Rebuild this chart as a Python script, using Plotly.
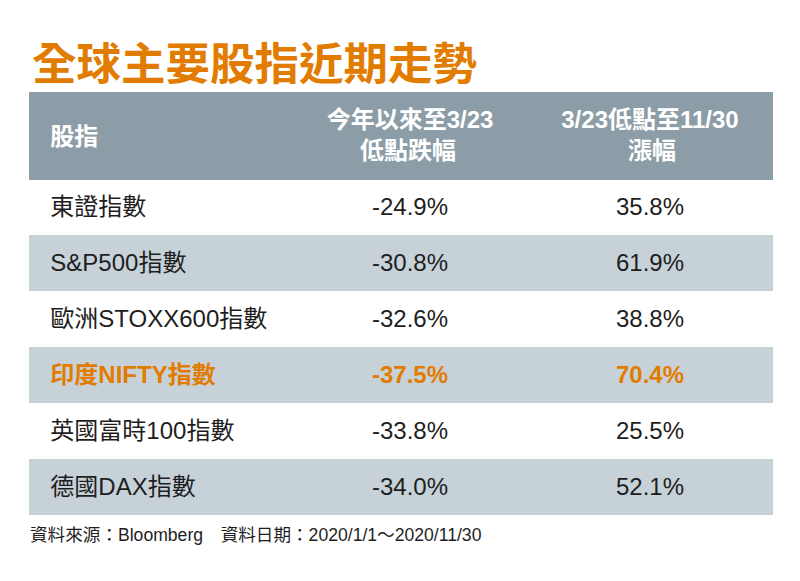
import plotly.graph_objects as go

title = "全球主要股指近期走勢"
header_labels = ["股指", ["今年以來至3/23", "低點跌幅"], ["3/23低點至11/30", "漲幅"]]
indices = ["東證指數", "S&P500指數", "歐洲STOXX600指數", "印度NIFTY指數", "英國富時100指數", "德國DAX指數"]
drop_to_low = ["-24.9%", "-30.8%", "-32.6%", "-37.5%", "-33.8%", "-34.0%"]
rise_from_low = ["35.8%", "61.9%", "38.8%", "70.4%", "25.5%", "52.1%"]
highlight = "印度NIFTY指數"
footnote = "資料來源：Bloomberg　資料日期：2020/1/1～2020/11/30"

# page has an 8px body margin: figure is shrunk so it fills the 800x581 window
OFF = 8
W, H = 800 - OFF, 581 - OFF
def px(x):
    return (x - OFF) / W
def py(y):
    return 1 - (y - OFF) / H

ORANGE = "#E27C00"
HEAD = "#8C9DA7"
STRIPE = "#C6D1D8"
TEXT = "#1e1e1e"
FONT = "Liberation Sans, Noto Sans CJK TC, sans-serif"
FS = 24
NB = "\u00a0"

n = len(indices)
hi = [name == highlight for name in indices]
row_fill = ["white" if i % 2 == 0 else STRIPE for i in range(n)]
row_color = [ORANGE if h else TEXT for h in hi]

def fmt(vals, pad=""):
    return [f"<span>{pad}" + (f"<b>{v}</b>" if h else v) + "</span>" for v, h in zip(vals, hi)]

def text_width(s, size=FS):
    w = 0.0
    for ch in s:
        if ord(ch) > 0x2E80:
            w += 1.0
        elif ch in "/.":
            w += 0.278
        else:
            w += 0.556
    return w * size

def centered_two_lines(lines):
    a, b = lines
    pad = (text_width(a) - text_width(b)) / 2
    k = max(0, round(pad / (0.278 * FS)))
    return f"<b>{a}</b><br><b>{NB * k}{b}</b>"

top, bottom = 92, 515
left, right = 29, 772
head_h, row_h = 87, 56
shift = 6  # text sits lower than the top-aligned default

# grid (fills)
fig = go.Figure(go.Table(
    domain=dict(x=[px(left), px(right)], y=[py(bottom), py(top)]),
    columnwidth=[263, 236, 244],
    header=dict(
        values=[""] * 3,
        fill_color=HEAD,
        line=dict(color=HEAD, width=1),
        height=head_h,
    ),
    cells=dict(
        values=[[""] * n] * 3,
        fill_color=[row_fill] * 3,
        line=dict(color=[row_fill] * 3, width=1),
        height=row_h,
    ),
    hoverinfo="skip",
))

# text
fig.add_trace(go.Table(
    domain=dict(x=[px(left), px(right)], y=[py(bottom + shift), py(top + shift)]),
    columnwidth=[263, 236, 244],
    header=dict(
        values=[f"<span style='font-size:8.6px'>{NB}</span><br><b>{NB}{NB}{header_labels[0]}</b>",
                centered_two_lines(header_labels[1]),
                centered_two_lines(header_labels[2])],
        fill_color="rgba(0,0,0,0)",
        line=dict(color="rgba(0,0,0,0)", width=0),
        align=["left", "center", "center"],
        font=dict(family=FONT, size=FS, color="white"),
        height=head_h,
    ),
    cells=dict(
        values=[fmt(indices, NB + NB), fmt(drop_to_low), fmt(rise_from_low)],
        fill_color="rgba(0,0,0,0)",
        line=dict(color="rgba(0,0,0,0)", width=0),
        align=["left", "center", "center"],
        font=dict(family=FONT, size=FS, color=[row_color] * 3),
        height=row_h,
    ),
))

fig.add_annotation(
    x=px(30), y=py(60), xref="paper", yref="paper",
    xanchor="left", yanchor="middle", showarrow=False,
    text="<b>" + title + "</b>",
    font=dict(family="Noto Sans CJK TC, sans-serif", size=44.5, color=ORANGE),
)
fig.add_annotation(
    x=px(28), y=py(535), xref="paper", yref="paper",
    xanchor="left", yanchor="middle", showarrow=False,
    text=footnote,
    font=dict(family=FONT, size=17.6, color=TEXT),
)

fig.update_layout(
    width=W, height=H,
    margin=dict(l=0, r=0, t=0, b=0),
    paper_bgcolor="white", plot_bgcolor="white",
)

fig.write_html("out.html")
